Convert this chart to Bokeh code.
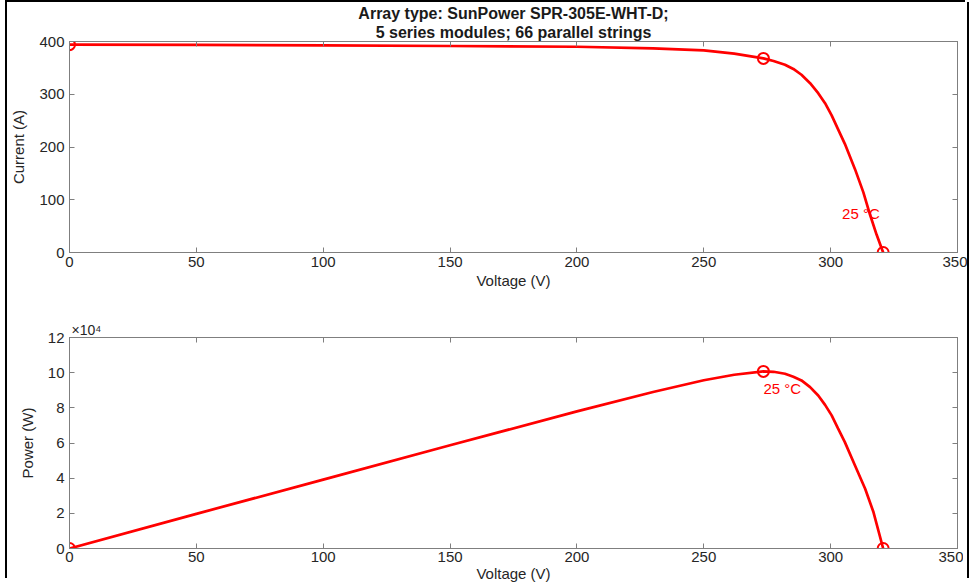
from bokeh.plotting import figure
from bokeh.models import LinearAxis, Label, FixedTicker, Title, Div, Spacer
from bokeh.layouts import column, row
from bokeh.embed import file_html
from bokeh.resources import INLINE

# ---- data ----
title_lines = ["Array type: SunPower SPR-305E-WHT-D;", "5 series modules; 66 parallel strings"]

iv_voltage = [0, 50, 100, 150, 200, 230, 250, 262, 273.5, 277.5, 282.0, 285.3, 288.5, 291.9, 295.1,
              297.8, 300.4, 302.9, 305.6, 309.6, 312.9, 315.5, 318.1, 320.7]
iv_current = [394, 393.5, 392.5, 391.5, 390, 387, 383, 377, 368, 363, 356, 348, 337, 321, 302,
              283, 260, 234, 206, 158, 114, 72, 34, 0]

pv_voltage = [0, 50, 100, 150, 200, 230, 250, 262, 273.5, 277.5, 282.0, 285.3, 288.5, 291.9, 295.1,
              297.8, 300.4, 302.9, 305.6, 309.6, 313.6, 316.9, 320.7]
pv_power = [0, 19700, 39200, 58700, 78000, 89000, 95700, 98800, 100700, 100500, 99400, 97700,
            95600, 91800, 87000, 81700, 75700, 68300, 60500, 47200, 34000, 20600, 0]

# marked points: short circuit, maximum power point, open circuit
iv_mark_v = [0, 273.5, 320.7]
iv_mark_i = [394, 368, 0]
pv_mark_v = [0, 273.5, 320.7]
pv_mark_p = [0, 100700, 0]

x_ticks = [0, 50, 100, 150, 200, 250, 300, 350]
i_ticks = [0, 100, 200, 300, 400]
p_ticks = [0, 20000, 40000, 60000, 80000, 100000, 120000]
p_tick_labels = ["0", "2", "4", "6", "8", "10", "12"]
temp_label = "25 °C"
p_scale_label = "×10⁴"

FONT = "Liberation Sans"
AXC = "#7f7f7f"
TXT = "#262626"
RED = "#ff0000"


def style_axis(ax, show_labels=True):
    ax.axis_line_color = AXC
    ax.axis_line_width = 1
    ax.major_tick_line_color = AXC
    ax.major_tick_in = 5
    ax.major_tick_out = 0
    ax.minor_tick_line_color = None
    ax.major_label_text_font = FONT
    ax.major_label_text_color = TXT
    ax.axis_label_text_font = FONT
    ax.axis_label_text_color = TXT
    ax.axis_label_text_font_style = "normal"
    if show_labels:
        ax.major_label_text_font_size = "15px"
        ax.axis_label_text_font_size = "15px"
    else:
        ax.major_label_text_font_size = "0px"
        ax.major_label_standoff = 0


def make_fig(y_range, y_ticks, ylabel, top_border, bottom_border):
    p = figure(frame_width=888, frame_height=211, x_range=(0, 350), y_range=y_range,
               output_backend="svg", toolbar_location=None,
               min_border_left=58, min_border_right=10,
               min_border_top=top_border, min_border_bottom=bottom_border)
    p.xgrid.visible = False
    p.ygrid.visible = False
    p.outline_line_color = AXC
    p.background_fill_color = "white"
    p.border_fill_color = "white"
    p.xaxis.ticker = FixedTicker(ticks=x_ticks)
    p.yaxis.ticker = FixedTicker(ticks=y_ticks)
    p.xaxis.axis_label = "Voltage (V)"
    p.yaxis.axis_label = ylabel
    for ax in p.xaxis + p.yaxis:
        style_axis(ax)
    p.xaxis.major_label_standoff = 4
    p.xaxis.axis_label_standoff = 2
    p.yaxis.major_label_standoff = 5
    p.yaxis.axis_label_standoff = 9
    top = LinearAxis(ticker=FixedTicker(ticks=x_ticks))
    style_axis(top, show_labels=False)
    p.add_layout(top, "above")
    right = LinearAxis(ticker=FixedTicker(ticks=y_ticks))
    style_axis(right, show_labels=False)
    p.add_layout(right, "right")
    return p


# ---- top: I-V ----
p1 = make_fig((0, 400), i_ticks, "Current (A)", 34, 48)
p1.title.text = title_lines[0]
p1.title.align = "center"
p1.title.text_font = FONT
p1.title.text_font_size = "16px"
p1.title.text_font_style = "bold"
p1.title.text_color = "#1a1a1a"
p1.title.standoff = 0
p1.add_layout(Title(text=title_lines[1], align="center", text_font=FONT, text_font_size="16px",
                    text_font_style="bold", text_color="#1a1a1a", standoff=1), "above")
p1.line(iv_voltage, iv_current, line_color=RED, line_width=2.7)
p1.scatter(iv_mark_v, iv_mark_i, marker="circle", size=11, fill_color=None,
           line_color=RED, line_width=2)
p1.add_layout(Label(x=304.5, y=58, text=temp_label, text_color=RED,
                    text_font=FONT, text_font_size="15px"))

# ---- bottom: P-V ----
p2 = make_fig((0, 120000), p_ticks, "Power (W)", 37, 30)
p2.xaxis.major_label_standoff = 3
p2.xaxis.axis_label_standoff = 0
p2.yaxis[0].major_label_overrides = {t: s for t, s in zip(p_ticks, p_tick_labels)}
p2.title.text = p_scale_label
p2.title.align = "left"
p2.title.offset = 2
p2.title.standoff = 0
p2.title.text_font = FONT
p2.title.text_font_size = "14px"
p2.title.text_font_style = "normal"
p2.title.text_color = TXT
p2.line(pv_voltage, pv_power, line_color=RED, line_width=2.7)
p2.scatter(pv_mark_v, pv_mark_p, marker="circle", size=11, fill_color=None,
           line_color=RED, line_width=2)
p2.add_layout(Label(x=273.5, y=86000, text=temp_label, text_color=RED,
                    text_font=FONT, text_font_size="15px"))

# ---- outer black frame (as in the reference screenshot) ----
BAR = {"background-color": "#000000"}
inner = column(p1, p2, spacing=0)
body = row(Spacer(width=5, height=10, margin=0),
           Div(width=2, height=576, styles=BAR, margin=0), inner,
           Div(width=2, height=576, styles=BAR, margin=0), spacing=0)
top_bar = row(Spacer(width=5, height=2, margin=0),
              Div(width=960, height=2, styles=BAR, margin=0), spacing=0)
layout = column(top_bar, body, spacing=0)

open("out.html", "w").write(file_html(layout, INLINE))
